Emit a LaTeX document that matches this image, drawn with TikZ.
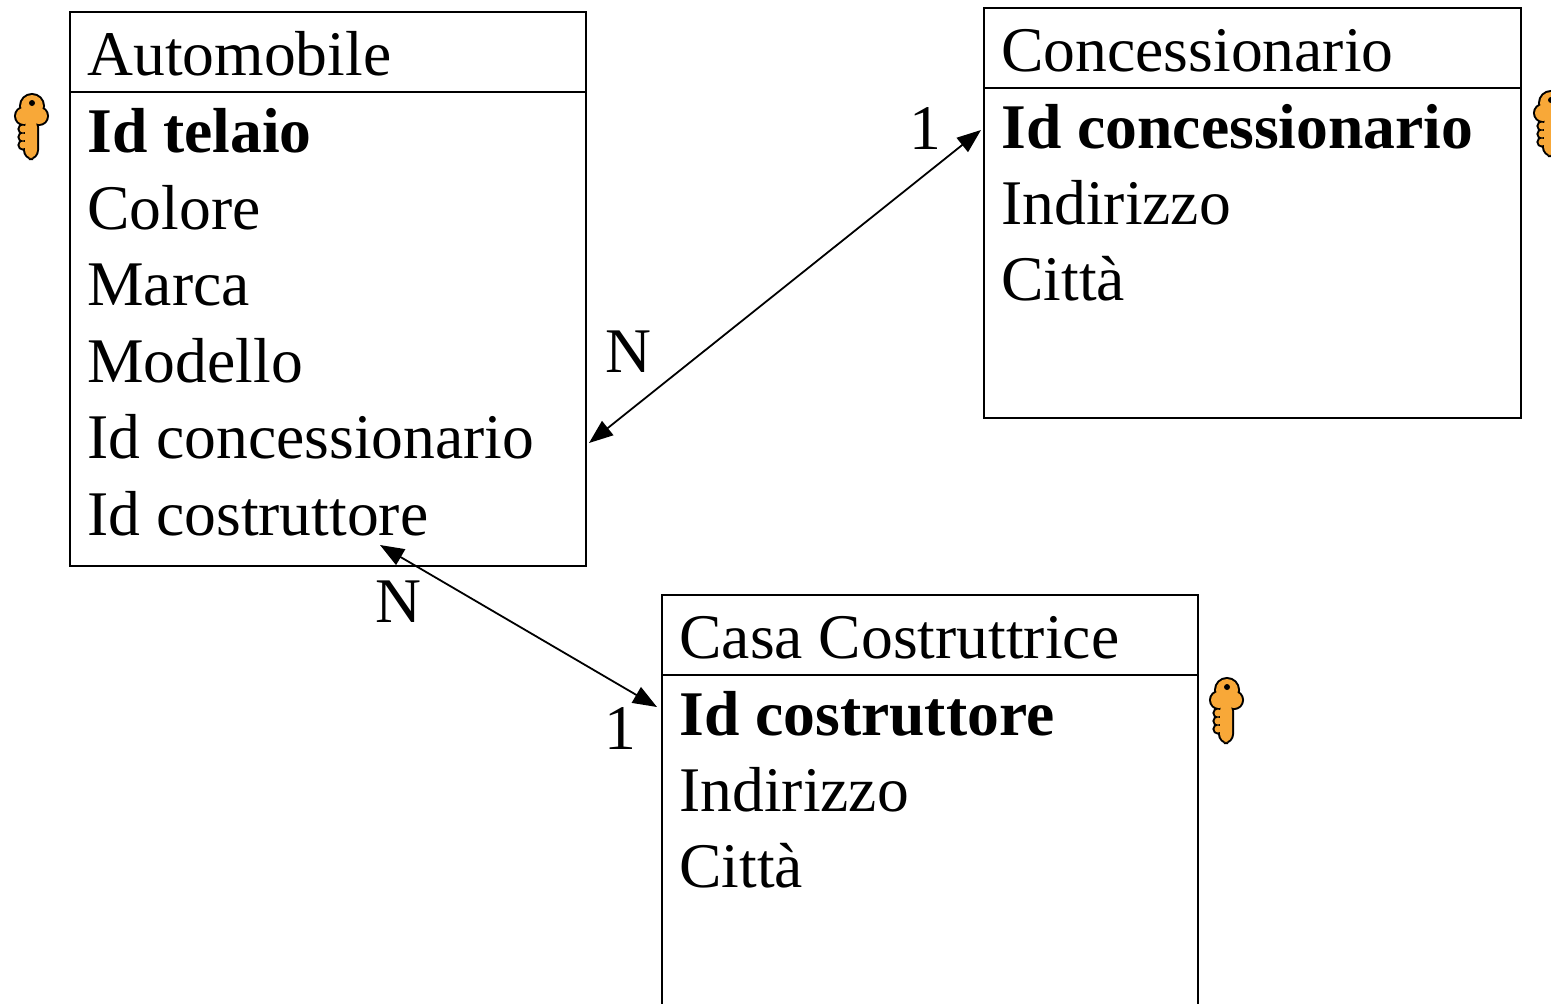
\documentclass[tikz,border=0pt]{standalone}
\usepackage{fontspec}
\setmainfont{Liberation Serif}
\usetikzlibrary{arrows.meta}
\definecolor{keyorange}{RGB}{248,168,56}
\tikzset{
  tbl/.style={draw, line width=1pt, inner sep=0pt, anchor=north west},
  attr/.style={anchor=base west, inner sep=0pt, font=\fontsize{31.8}{38}\selectfont},
  card/.style={inner sep=0pt, font=\fontsize{31.8}{38}\selectfont},
  link/.style={{Triangle[length=12pt,width=9pt]}-{Triangle[length=12pt,width=9pt]}, line width=0.9pt},
  keyicon/.pic={
    \draw[line width=2pt, black, fill=black] (1,-21) circle (11) (-7,-11) circle (8) (8,-11) circle (8)
      (-8,2) circle (3.5) (-8,10) circle (3.5) (-8,18) circle (3.5);
    \draw[line width=2pt, black, fill=black, rounded corners=4pt] (-6,-8) rectangle (6,31);
    \fill[keyorange] (1,-21) circle (11) (-7,-11) circle (8) (8,-11) circle (8)
      (-8,2) circle (3.5) (-8,10) circle (3.5) (-8,18) circle (3.5);
    \fill[keyorange, rounded corners=4pt] (-6,-8) rectangle (6,31);
    \fill[black] (1,-24) circle (3);
  }
}
\begin{document}
\begin{tikzpicture}[x=0.5pt,y=-0.5pt]
  \useasboundingbox (0,0) rectangle (1551,1003);

  % Automobile
  \node[tbl, minimum width=258pt, minimum height=277pt] (auto) at (69,11) {};
  \draw[line width=1pt] ([yshift=-40.5pt]auto.north west) -- ([yshift=-40.5pt]auto.north east);
  \node[attr] (autoName) at (87,75) {Automobile};
  \node[attr] (autoTel) at (87,152) {\textbf{Id telaio}};
  \node[attr] (autoCol) at (87,229) {Colore};
  \node[attr] (autoMar) at (87,305) {Marca};
  \node[attr] (autoMod) at (87,382) {Modello};
  \node[attr] (autoConc) at (87,458) {Id concessionario};
  \node[attr] (autoCos) at (87,535) {Id costruttore};
  \pic at (31,127) {keyicon};

  % Concessionario
  \node[tbl, minimum width=268.5pt, minimum height=205pt] (conc) at (983,7) {};
  \draw[line width=1pt] ([yshift=-40.5pt]conc.north west) -- ([yshift=-40.5pt]conc.north east);
  \node[attr] (concName) at (1001,71) {Concessionario};
  \node[attr] (concId) at (1001,148) {\textbf{Id concessionario}};
  \node[attr] (concInd) at (1001,224) {Indirizzo};
  \node[attr] (concCit) at (1001,300) {Città};
  \pic at (1550,124) {keyicon};

  % Casa Costruttrice
  \node[tbl, minimum width=268pt, minimum height=212pt] (casa) at (661,594) {};
  \draw[line width=1pt] ([yshift=-40.5pt]casa.north west) -- ([yshift=-40.5pt]casa.north east);
  \node[attr] (casaName) at (679,658) {Casa Costruttrice};
  \node[attr] (casaId) at (679,735) {\textbf{Id costruttore}};
  \node[attr] (casaInd) at (679,811) {Indirizzo};
  \node[attr] (casaCit) at (679,887) {Città};
  \pic at (1226,711) {keyicon};

  % Relations
  \coordinate (autoConcEnd) at (589,443);
  \coordinate (concIdEnd) at (981,130);
  \draw[link] (autoConcEnd) -- (concIdEnd);
  \node[card] (cardN1) at (628,352) {N};
  \node[card] (card11) at (925,128) {1};

  \coordinate (autoCosEnd) at (380,545);
  \coordinate (casaIdEnd) at (657,707);
  \draw[link] (autoCosEnd) -- (casaIdEnd);
  \node[card] (cardN2) at (398,602) {N};
  \node[card] (card12) at (620,728) {1};
\end{tikzpicture}
\end{document}
